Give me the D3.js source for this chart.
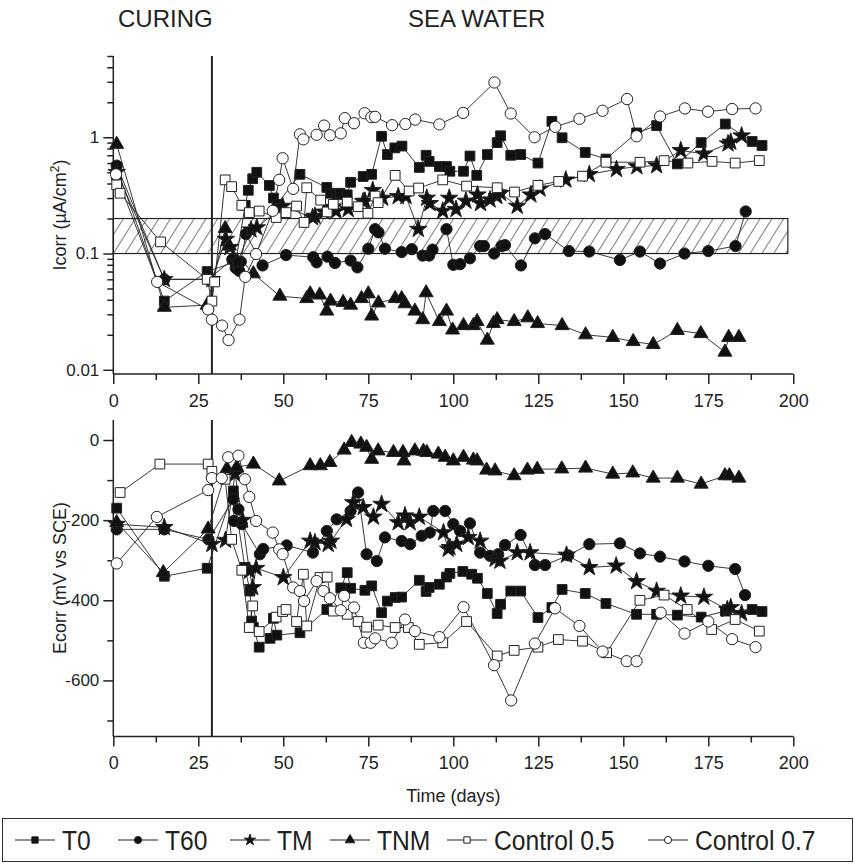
<!DOCTYPE html>
<html lang="en">
<head>
<meta charset="UTF-8">
<title>Icorr and Ecorr vs time</title>
<script src="https://d3js.org/d3.v7.min.js"></script>
<style>
  body { margin: 0; background: #fff; }
  svg { font-family: "Liberation Sans", Arial, sans-serif; }
  .axis path, .axis line { stroke: #222; stroke-width: 1.5; }
  .axis text { font-size: 18px; fill: #222; }
  .legend text { font-size: 28px; fill: #222; }
</style>
</head>
<body>
<svg id="chart" width="855" height="864"></svg>
<script>
// ---- data: [day, value] ----
const seriesNames = ["T0", "T60", "TM", "TNM", "Control 0.5", "Control 0.7"];

// Icorr (µA/cm2)
const icorrT0 = [[1,0.55],[15,0.039],[27.6,0.07],[36,0.085],[38.8,0.26],[39.7,0.35],[41,0.44],[42.2,0.5],[45.9,0.385],[47.1,0.30],[48.2,0.265],[54.9,0.48],[62.8,0.37],[63.9,0.33],[65.7,0.32],[66.7,0.33],[68.8,0.32],[69.8,0.41],[73.5,0.46],[76,0.48],[78.9,1.02],[80.6,0.71],[82.8,0.81],[84.9,0.84],[90,0.55],[92,0.70],[92.9,0.62],[95.9,0.56],[98,0.56],[99,0.51],[103,0.51],[104.9,0.69],[106.9,0.47],[110,0.71],[112.9,0.90],[113.9,1.03],[116.9,0.70],[119.8,0.71],[124.9,0.60],[129,1.37],[132,0.99],[138.8,0.74],[144.9,0.65],[153.9,1.09],[159.8,1.26],[165.9,0.59],[172.9,0.90],[180,1.30],[187.9,0.92],[190.8,0.85]];
const icorrT60 = [[1,0.57],[15,0.06],[28,0.06],[35,0.089],[36,0.075],[37,0.071],[37.5,0.085],[39,0.147],[43.9,0.079],[50.8,0.097],[58.8,0.093],[59.8,0.084],[63,0.094],[65.2,0.083],[69.8,0.087],[71.8,0.076],[75,0.11],[77,0.162],[78,0.152],[79.9,0.11],[84.8,0.103],[87.8,0.109],[91,0.096],[92.9,0.096],[93.9,0.108],[98,0.162],[100,0.08],[102,0.081],[104.9,0.091],[107.9,0.116],[109,0.116],[112,0.1],[114.2,0.116],[115.2,0.118],[119.9,0.079],[124,0.135],[127,0.147],[134,0.105],[140,0.104],[149,0.088],[154.9,0.104],[160.8,0.082],[168,0.10],[175,0.105],[183,0.116],[186,0.23]];
const icorrTM = [[1,0.5],[15,0.06],[29,0.06],[33.1,0.133],[34.3,0.113],[36.5,0.085],[40.5,0.16],[42.2,0.167],[49.8,0.256],[58.6,0.204],[59.3,0.21],[62,0.228],[64.5,0.249],[65.5,0.232],[69.1,0.24],[73.5,0.28],[74,0.283],[76.3,0.35],[79.2,0.30],[83.8,0.31],[86.1,0.31],[89.7,0.162],[92.2,0.30],[93.1,0.27],[96.9,0.232],[98.8,0.30],[100.8,0.24],[103.7,0.283],[107.1,0.32],[108,0.27],[110.8,0.29],[112.8,0.31],[113.9,0.33],[118.8,0.256],[122.8,0.32],[125.5,0.36],[133.1,0.43],[140,0.48],[148,0.53],[154,0.56],[159.8,0.57],[166.9,0.77],[173.7,0.72],[180.8,0.88],[181.6,0.91],[184.8,1.03]];
const icorrTNM = [[1,0.87],[15,0.0345],[27.6,0.036],[32.9,0.164],[34.1,0.116],[41.2,0.067],[49,0.043],[56.9,0.041],[57.9,0.045],[60.7,0.044],[62.8,0.032],[63.9,0.039],[67.6,0.038],[69.8,0.036],[73,0.041],[75,0.045],[76,0.029],[78,0.0376],[82.9,0.041],[84.8,0.041],[85.8,0.037],[88.7,0.032],[91,0.027],[92,0.046],[95.9,0.026],[98,0.032],[99.8,0.022],[103,0.024],[105.9,0.024],[107,0.026],[110,0.018],[111.8,0.025],[112.9,0.027],[117.9,0.026],[121.9,0.028],[124.8,0.025],[132,0.024],[138.9,0.020],[146.9,0.019],[152.9,0.0175],[158.8,0.0165],[165.9,0.0218],[172.8,0.0205],[179.9,0.0142],[181,0.019],[184,0.019]];
const icorrC05 = [[1,0.39],[2,0.33],[13.9,0.126],[27.6,0.06],[29,0.039],[29.8,0.057],[32.9,0.43],[34.8,0.376],[37.8,0.26],[40,0.225],[42.9,0.232],[47.9,0.204],[50.8,0.225],[53.9,0.256],[56.1,0.185],[56.9,0.368],[61,0.288],[62.9,0.228],[64.7,0.265],[68.8,0.277],[72,0.253],[74.9,0.222],[77,0.312],[77.9,0.274],[82.9,0.47],[87,0.345],[89.8,0.366],[96.9,0.43],[103.9,0.38],[112.9,0.368],[118,0.338],[124.9,0.386],[131,0.417],[138,0.463],[144.9,0.61],[154.9,0.61],[162,0.63],[169,0.60],[176.1,0.62],[182.9,0.60],[190,0.63]];
const icorrC07 = [[0.8,0.48],[12.9,0.057],[27.9,0.033],[29,0.027],[32,0.024],[33.9,0.018],[37.1,0.027],[38.8,0.063],[42,0.099],[46.9,0.233],[48.8,0.43],[49.8,0.66],[52.9,0.36],[54.9,1.06],[55.9,0.96],[59.8,1.05],[62,1.26],[63.7,1.04],[66.9,1.08],[68.1,1.46],[70.8,1.32],[73.9,1.61],[75.9,1.49],[77,1.50],[82,1.27],[85.9,1.30],[88.8,1.42],[95.9,1.29],[102.9,1.62],[112.1,2.96],[116.9,1.60],[123.9,1.0],[130,1.23],[137.1,1.44],[143.9,1.69],[151.1,2.13],[153.9,1.02],[160.8,1.51],[168.1,1.77],[174.9,1.66],[182,1.75],[188.9,1.77]];

// Ecorr (mV vs SCE)
const ecorrT0 = [[1,-170],[15,-340],[27.6,-320],[35.3,-127],[38.7,-318],[40.2,-377],[40.7,-452],[41.2,-468],[42.9,-517],[46.1,-495],[47.1,-445],[48.1,-487],[54.9,-481],[62.8,-423],[66.9,-369],[68.8,-331],[69.8,-370],[74,-375],[76,-364],[78.9,-431],[80.6,-402],[82.9,-393],[84.8,-392],[90,-350],[92,-378],[92.9,-368],[95.9,-360],[98,-342],[99,-333],[102.8,-328],[105.4,-335],[107.1,-345],[110,-383],[112.9,-433],[113.9,-410],[116.9,-377],[119.8,-377],[124.9,-443],[129,-418],[132,-373],[138.8,-383],[144.9,-408],[153.9,-435],[159.8,-435],[165.9,-437],[172.9,-442],[180,-427],[187.9,-423],[190.8,-428]];
const ecorrT60 = [[1,-223],[15,-223],[28,-248],[35.3,-148],[35.5,-202],[36.8,-173],[37.8,-210],[43.1,-285],[44.1,-272],[51,-263],[58.7,-281],[62.8,-227],[65.7,-198],[69.8,-177],[72,-131],[74.5,-285],[77.5,-302],[79.9,-243],[84.8,-252],[87.3,-260],[90.7,-239],[93.1,-231],[94.1,-177],[97.6,-177],[100,-210],[102,-227],[104.9,-208],[107.9,-281],[110.8,-289],[113.2,-285],[115.2,-262],[119.8,-237],[124,-312],[127,-312],[133.8,-288],[140,-260],[149,-258],[154.9,-283],[160.8,-291],[168,-303],[175,-314],[182.9,-322],[185.8,-387]];
const ecorrTM = [[1,-210],[15,-218],[29,-260],[33,-250],[35.8,-85],[38,-200],[40,-327],[41,-368],[42,-320],[50,-343],[57.9,-252],[59.3,-256],[63.2,-260],[64,-252],[68.6,-198],[70.6,-156],[73.5,-168],[76.5,-192],[78.9,-160],[83.8,-206],[85.8,-189],[87.3,-206],[90,-192],[97.1,-231],[98.5,-272],[99,-268],[101,-260],[104.4,-243],[107.9,-252],[112.3,-297],[113.7,-302],[118.8,-281],[122.6,-281],[133.3,-287],[140,-318],[147.9,-314],[153.9,-353],[159.8,-377],[166.9,-389],[173.7,-392],[180.6,-423],[181.6,-418],[184.8,-433]];
const ecorrTNM = [[1,-206],[14.7,-331],[27.9,-222],[33.4,-72],[36.3,-68],[41.2,-60],[48.8,-102],[57.9,-64],[60.9,-64],[63.7,-56],[67.9,-25],[70.1,-6],[72.8,-10],[74.5,-18],[76,-48],[77.9,-27],[82.4,-31],[85.2,-31],[85.5,-52],[88.7,-27],[91.2,-28],[92.2,-31],[95.6,-35],[97.6,-43],[100,-52],[103,-43],[105.9,-50],[107,-52],[109.8,-75],[112.3,-77],[117.9,-89],[121.8,-75],[124.7,-73],[131.9,-72],[138.9,-70],[146.9,-85],[152.8,-82],[158.8,-95],[165.9,-95],[172.9,-110],[179.9,-89],[181.2,-89],[184,-95]];
const ecorrC05 = [[2,-131],[13.7,-60],[27.9,-60],[29,-78],[32.9,-98],[34.8,-248],[37.8,-325],[40,-468],[41,-414],[42.9,-478],[47.9,-442],[49.8,-428],[50.8,-423],[53.9,-453],[55.9,-335],[56.9,-464],[60.8,-343],[62.9,-342],[64.7,-427],[68.8,-435],[72,-453],[74.5,-467],[77.9,-462],[82.9,-468],[86.8,-468],[90,-510],[96.9,-506],[103.9,-453],[112.9,-539],[117.9,-525],[124.9,-517],[130.9,-498],[138,-502],[145.1,-531],[154.9,-400],[162,-387],[168.8,-423],[176,-473],[182.9,-448],[190,-477]];
const ecorrC07 = [[1,-308],[12.8,-192],[27.9,-125],[29,-95],[31.9,-95],[33.8,-43],[36.8,-39],[38.7,-98],[40,-142],[42,-202],[46.9,-231],[48.8,-273],[49.8,-285],[52.9,-368],[54.9,-377],[56.1,-402],[59.8,-352],[61.8,-377],[63.7,-395],[66.9,-425],[67.9,-389],[70.8,-418],[73.7,-506],[75.7,-506],[77,-495],[81.9,-506],[85.8,-448],[88.7,-477],[95.9,-492],[103,-417],[112,-562],[117,-650],[124,-508],[129.9,-420],[137.1,-464],[143.9,-528],[151,-552],[153.9,-552],[161,-431],[168,-483],[175,-453],[182,-497],[188.9,-517]];

const icorrSeries = [icorrT0, icorrT60, icorrTM, icorrTNM, icorrC05, icorrC07];
const ecorrSeries = [ecorrT0, ecorrT60, ecorrTM, ecorrTNM, ecorrC05, ecorrC07];

const curingEnd = 29;          // vertical divider, days
const band = [0.1, 0.2];       // hatched Icorr band
const bandEnd = 198.4;
const xTicks = d3.range(0, 201, 12.5);
const icorrTicks = [0.01,0.02,0.03,0.04,0.05,0.06,0.07,0.08,0.09,0.1,0.2,0.3,0.4,0.5,0.6,0.7,0.8,0.9,1,2,3,4,5];
const icorrLabels = [0.01, 0.1, 1];
const ecorrTicks = d3.range(-700, 1, 100);

// ---- layout ----
const svg = d3.select("#chart");
const left = 113.3, right = 793.3;

const x = d3.scaleLinear().domain([0, 200]).range([left, right]);
const yTop = d3.scaleLog().domain([0.0092, 5]).range([374, 56]);
const yBot = d3.scaleLinear().domain([-740, 50]).range([736.5, 420]);

const symbols = [d3.symbolSquare, d3.symbolCircle, d3.symbolStar, d3.symbolTriangle, d3.symbolSquare, d3.symbolCircle];
const sizes = [95, 100, 95, 85, 95, 100];
const fills = ["#111", "#111", "#111", "#111", "#fff", "#fff"];

// hatch pattern
const defs = svg.append("defs");
defs.append("pattern")
    .attr("id", "hatch")
    .attr("patternUnits", "userSpaceOnUse")
    .attr("width", 10).attr("height", 10)
    .attr("patternTransform", "rotate(32)")
  .append("line")
    .attr("x1", 0).attr("y1", 0).attr("x2", 0).attr("y2", 10)
    .attr("stroke", "#222").attr("stroke-width", 1.2);

function drawAxes(g, y, yBottom, yTopPx, yTickVals, yFmt, majorY) {
    const xAxis = g.append("g")
        .attr("class", "axis")
        .attr("transform", `translate(0,${yBottom})`)
        .call(d3.axisBottom(x).tickValues(xTicks).tickSizeOuter(0)
            .tickFormat(d => d % 25 === 0 ? d : ""));
    xAxis.selectAll(".tick line").attr("y2", d => d % 25 === 0 ? 10 : 6);
    xAxis.selectAll(".tick text").attr("y", 20);
    xAxis.select(".domain").attr("d", `M${left},0H${right}`);

    const yAxis = g.append("g")
        .attr("class", "axis")
        .attr("transform", `translate(${left},0)`)
        .call(d3.axisLeft(y).tickValues(yTickVals).tickSizeOuter(0).tickFormat(yFmt));
    yAxis.selectAll(".tick line").attr("x2", d => majorY(d) ? -10 : -6);
    yAxis.selectAll(".tick text").attr("x", -14).style("font-size", "17px");
    yAxis.select(".domain").attr("d", `M0,${yTopPx}V${yBottom}`);

    // curing / sea water divider
    g.append("line")
        .attr("x1", x(curingEnd)).attr("x2", x(curingEnd))
        .attr("y1", yTopPx).attr("y2", yBottom)
        .attr("stroke", "#222").attr("stroke-width", 2);
}

function drawSeries(g, data, y) {
    data.forEach((pts, i) => {
        g.append("path")
            .datum(pts)
            .attr("fill", "none")
            .attr("stroke", "#222")
            .attr("stroke-width", 0.9)
            .attr("d", d3.line().x(d => x(d[0])).y(d => y(d[1])));
    });
    data.forEach((pts, i) => {
        g.selectAll(null)
            .data(pts)
            .enter()
            .append("path")
            .attr("transform", d => `translate(${x(d[0])},${y(d[1])})`)
            .attr("d", d3.symbol().type(symbols[i]).size(sizes[i]))
            .attr("fill", fills[i])
            .attr("stroke", "#222")
            .attr("stroke-width", 1);
    });
}

// ---- top panel: Icorr ----
const topPanel = svg.append("g");
topPanel.append("rect")
    .attr("x", x(0)).attr("width", x(bandEnd) - x(0))
    .attr("y", yTop(band[1])).attr("height", yTop(band[0]) - yTop(band[1]))
    .attr("fill", "url(#hatch)")
    .attr("stroke", "#222").attr("stroke-width", 1.2);
drawAxes(topPanel, yTop, 374, 56, icorrTicks,
    d => icorrLabels.includes(d) ? d : "",
    d => icorrLabels.includes(d));
drawSeries(topPanel, icorrSeries, yTop);

// ---- bottom panel: Ecorr ----
const botPanel = svg.append("g");
drawAxes(botPanel, yBot, 736.5, 420, ecorrTicks,
    d => d % 200 === 0 ? d : "",
    d => d % 200 === 0);
drawSeries(botPanel, ecorrSeries, yBot);

// ---- titles ----
svg.append("text").attr("x", 118).attr("y", 27).attr("font-size", 24).attr("fill", "#222").text("CURING");
svg.append("text").attr("x", 408).attr("y", 27).attr("font-size", 24).attr("fill", "#222").text("SEA WATER");

svg.append("text")
    .attr("transform", `translate(66,${(56 + 374) / 2}) rotate(-90)`)
    .attr("text-anchor", "middle").attr("font-size", 18).attr("fill", "#222")
    .html('Icorr (µA/cm<tspan dy="-7" font-size="12">2</tspan><tspan dy="7">)</tspan>');
svg.append("text")
    .attr("transform", `translate(66,${(420 + 736) / 2}) rotate(-90)`)
    .attr("text-anchor", "middle").attr("font-size", 18).attr("fill", "#222")
    .text("Ecorr (mV vs SCE)");
svg.append("text")
    .attr("x", (left + right) / 2).attr("y", 802)
    .attr("text-anchor", "middle").attr("font-size", 18).attr("fill", "#222")
    .text("Time (days)");

// ---- legend ----
const legend = svg.append("g").attr("class", "legend");
legend.append("rect")
    .attr("x", 2.5).attr("y", 818.5).attr("width", 850).attr("height", 43)
    .attr("fill", "none").attr("stroke", "#333").attr("stroke-width", 1);
const legendX = [15, 118, 230, 330, 447, 648];
seriesNames.forEach((name, i) => {
    const item = legend.append("g").attr("transform", `translate(${legendX[i]},840)`);
    item.append("line").attr("x1", 0).attr("x2", 40).attr("stroke", "#222").attr("stroke-width", 1.2);
    item.append("path")
        .attr("transform", "translate(20,0)")
        .attr("d", d3.symbol().type(symbols[i]).size(40))
        .attr("fill", fills[i]).attr("stroke", "#222").attr("stroke-width", 1);
    item.append("text").attr("transform", "translate(47,10) scale(0.88,1)").text(name);
});
</script>
</body>
</html>
